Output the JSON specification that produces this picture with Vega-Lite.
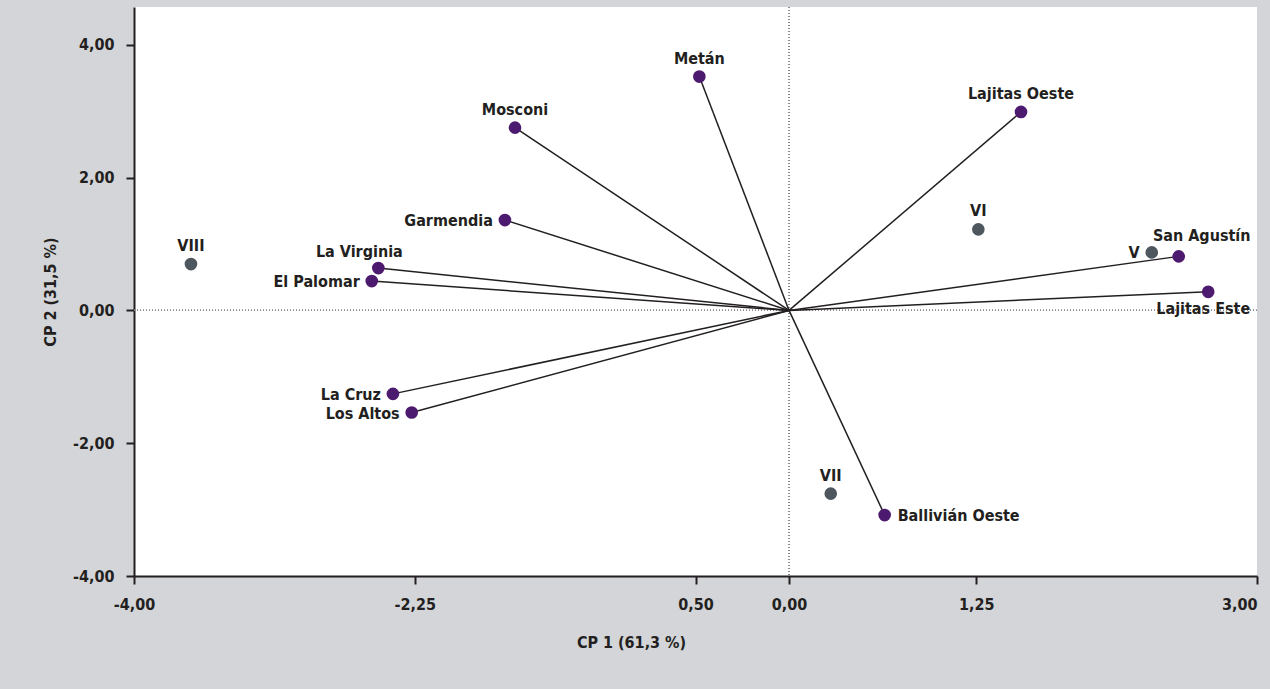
{
  "$schema": "https://vega.github.io/schema/vega-lite/v6.json",
  "width": 1123,
  "height": 569,
  "padding": {"left": 42, "top": 6, "right": 13, "bottom": 39},
  "background": "#d3d5d8",
  "config": {
    "view": {"fill": "white", "stroke": null},
    "font": "'DejaVu Sans Condensed', 'DejaVu Sans', sans-serif",
    "axis": {
      "grid": false,
      "domainColor": "#231f20",
      "domainWidth": 2,
      "tickColor": "#231f20",
      "tickWidth": 2,
      "tickSize": 8,
      "labelPadding": 12,
      "labelFont": "'DejaVu Sans Condensed', 'DejaVu Sans', sans-serif",
      "labelFontSize": 16,
      "labelFontWeight": "bold",
      "labelColor": "#231f20",
      "titleFont": "'DejaVu Sans Condensed', 'DejaVu Sans', sans-serif",
      "titleFontSize": 16,
      "titleFontWeight": "bold",
      "titleColor": "#231f20"
    }
  },
  "data": {
    "values": [
      {"name": "Metán", "cp1": -0.476, "cp2": 3.522, "tipo": "variable"},
      {"name": "Mosconi", "cp1": -1.625, "cp2": 2.753, "tipo": "variable"},
      {"name": "Garmendia", "cp1": -1.688, "cp2": 1.361, "tipo": "variable"},
      {"name": "Lajitas Oeste", "cp1": 1.529, "cp2": 2.99, "tipo": "variable"},
      {"name": "San Agustín", "cp1": 2.512, "cp2": 0.814, "tipo": "variable"},
      {"name": "Lajitas Este", "cp1": 2.696, "cp2": 0.28, "tipo": "variable"},
      {"name": "La Virginia", "cp1": -2.477, "cp2": 0.638, "tipo": "variable"},
      {"name": "El Palomar", "cp1": -2.518, "cp2": 0.442, "tipo": "variable"},
      {"name": "La Cruz", "cp1": -2.386, "cp2": -1.257, "tipo": "variable"},
      {"name": "Los Altos", "cp1": -2.269, "cp2": -1.538, "tipo": "variable"},
      {"name": "Ballivián Oeste", "cp1": 0.679, "cp2": -3.082, "tipo": "variable"},
      {"name": "VIII", "cp1": -3.645, "cp2": 0.698, "tipo": "observación"},
      {"name": "VI", "cp1": 1.263, "cp2": 1.221, "tipo": "observación"},
      {"name": "V", "cp1": 2.344, "cp2": 0.874, "tipo": "observación"},
      {"name": "VII", "cp1": 0.343, "cp2": -2.759, "tipo": "observación"}
    ]
  },
  "encoding": {
    "x": {
      "field": "cp1", "type": "quantitative",
      "scale": {"domain": [-4, 3], "nice": false, "zero": false},
      "axis": {
        "title": "CP 1 (61,3 %)",
        "values": [-4, -2.25, -0.5, 0.083, 1.25, 3],
        "labelExpr": "datum.value == -4 ? '-4,00' : datum.value == -2.25 ? '-2,25' : datum.value == -0.5 ? '0,50' : datum.value == 1.25 ? '1,25' : datum.value == 3 ? '3,00' : '0,00'",
        "labelAlign": {"condition": {"test": "datum.value == 3", "value": "right"}, "value": "center"},
        "titleX": 497,
        "titlePadding": 22
      }
    },
    "y": {
      "field": "cp2", "type": "quantitative",
      "scale": {"domain": [-4, 4.57], "nice": false, "zero": false},
      "axis": {
        "title": "CP 2 (31,5 %)",
        "values": [-4, -2, 0, 2, 4],
        "labelExpr": "replace(replace(format(datum.value, '.2f'), '.', ','), '\u2212', '-')",
        "titlePadding": 14
      }
    }
  },
  "layer": [
    {
      "mark": {"type": "rule", "color": "#8a8a8a", "strokeDash": [1, 2], "strokeWidth": 1},
      "encoding": {"x": {"datum": 0.083}, "y": null}
    },
    {
      "mark": {"type": "rule", "color": "#8a8a8a", "strokeDash": [1, 2], "strokeWidth": 1},
      "encoding": {"y": {"datum": 0}, "x": null}
    },
    {
      "transform": [{"filter": "datum.tipo == 'variable'"}],
      "mark": {"type": "rule", "color": "#231f20", "strokeWidth": 1.5},
      "encoding": {"x2": {"datum": 0.083}, "y2": {"datum": 0}}
    },
    {
      "mark": {"type": "circle", "opacity": 1, "size": 160},
      "encoding": {
        "color": {
          "field": "tipo", "type": "nominal",
          "scale": {"domain": ["variable", "observación"], "range": ["#4c1a6e", "#4f575e"]},
          "legend": null
        }
      }
    },
    {
      "transform": [{"filter": {"field": "name", "oneOf": ["Metán", "Mosconi", "Lajitas Oeste", "VI", "VIII", "VII"]}}],
      "mark": {"type": "text", "align": "center", "baseline": "alphabetic", "dy": -13, "fontSize": 16, "fontWeight": "bold", "color": "#231f20"},
      "encoding": {"text": {"field": "name"}}
    },
    {
      "transform": [{"filter": {"field": "name", "oneOf": ["Garmendia", "El Palomar", "La Cruz", "Los Altos", "V"]}}],
      "mark": {"type": "text", "align": "right", "baseline": "middle", "dx": -12, "dy": 1, "fontSize": 16, "fontWeight": "bold", "color": "#231f20"},
      "encoding": {"text": {"field": "name"}}
    },
    {
      "transform": [{"filter": "datum.name == 'Ballivián Oeste'"}],
      "mark": {"type": "text", "align": "left", "baseline": "middle", "dx": 13, "dy": 1, "fontSize": 16, "fontWeight": "bold", "color": "#231f20"},
      "encoding": {"text": {"field": "name"}}
    },
    {
      "transform": [{"filter": "datum.name == 'La Virginia'"}],
      "mark": {"type": "text", "align": "center", "baseline": "alphabetic", "dx": -19, "dy": -11, "fontSize": 16, "fontWeight": "bold", "color": "#231f20"},
      "encoding": {"text": {"field": "name"}}
    },
    {
      "transform": [{"filter": "datum.name == 'San Agustín'"}],
      "mark": {"type": "text", "align": "center", "baseline": "alphabetic", "dx": 23, "dy": -15, "fontSize": 16, "fontWeight": "bold", "color": "#231f20"},
      "encoding": {"text": {"field": "name"}}
    },
    {
      "transform": [{"filter": "datum.name == 'Lajitas Este'"}],
      "mark": {"type": "text", "align": "center", "baseline": "alphabetic", "dx": -5, "dy": 22, "fontSize": 16, "fontWeight": "bold", "color": "#231f20"},
      "encoding": {"text": {"field": "name"}}
    }
  ]
}
